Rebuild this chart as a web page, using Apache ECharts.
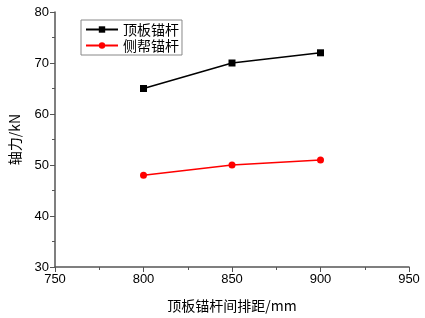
<!DOCTYPE html>
<html>
<head>
<meta charset="utf-8">
<script src="https://cdn.jsdelivr.net/npm/echarts@6/dist/echarts.min.js"></script>
<style>
html,body{margin:0;padding:0;background:#fff;}
#chart{width:425px;height:318px;}
</style>
</head>
<body>
<div id="chart"></div>
<script>
// 数据
const spacing = [800, 850, 900]
const roofBolt = [65, 70, 72]
const sideBolt = [48, 50, 51]
const seriesNames = ['顶板锚杆', '侧帮锚杆']

const cjk = '"Noto Sans CJK SC", sans-serif'
const num = '"Liberation Sans", Arial, sans-serif'

const chart = echarts.init(document.getElementById('chart'))
chart.setOption({
    animation: false,
    grid: { left: 55, right: 16, top: 12, bottom: 47 },
    legend: {
        data: seriesNames,
        orient: 'vertical',
        left: 81,
        top: 20,
        itemWidth: 32,
        itemHeight: 8,
        itemGap: 1,
        padding: [2, 3, 2, 4],
        borderColor: '#888',
        borderWidth: 1,
        borderRadius: 0,
        textStyle: { fontFamily: cjk, fontSize: 14, lineHeight: 15, color: '#000' }
    },
    xAxis: {
        type: 'value',
        min: 750,
        max: 950,
        interval: 50,
        name: '顶板锚杆间排距/mm',
        nameLocation: 'middle',
        nameGap: 32,
        nameTextStyle: { fontFamily: cjk, fontSize: 14, color: '#000' },
        axisLine: { show: true, lineStyle: { color: '#555', width: 1.5 } },
        axisTick: { show: true, inside: false, length: 5, lineStyle: { color: '#555' } },
        minorTick: { show: true, splitNumber: 2, length: 3, lineStyle: { color: '#555' } },
        axisLabel: { fontFamily: num, fontSize: 13, color: '#000', margin: 6 },
        splitLine: { show: false }
    },
    yAxis: {
        type: 'value',
        min: 30,
        max: 80,
        interval: 10,
        name: '轴力/kN',
        nameLocation: 'middle',
        nameGap: 33,
        nameTextStyle: { fontFamily: cjk, fontSize: 14, color: '#000' },
        axisLine: { show: true, lineStyle: { color: '#555', width: 1.5 } },
        axisTick: { show: true, inside: false, length: 5, lineStyle: { color: '#555' } },
        minorTick: { show: true, splitNumber: 2, length: 3, lineStyle: { color: '#555' } },
        axisLabel: { fontFamily: num, fontSize: 13, color: '#000', margin: 6 },
        splitLine: { show: false }
    },
    series: [
        {
            name: seriesNames[0],
            type: 'line',
            data: spacing.map((x, i) => [x, roofBolt[i]]),
            symbol: 'rect',
            symbolSize: 7,
            itemStyle: { color: '#000' },
            lineStyle: { color: '#000', width: 1.5 }
        },
        {
            name: seriesNames[1],
            type: 'line',
            data: spacing.map((x, i) => [x, sideBolt[i]]),
            symbol: 'circle',
            symbolSize: 7,
            itemStyle: { color: '#f00' },
            lineStyle: { color: '#f00', width: 1.5 }
        }
    ]
})
</script>
</body>
</html>
